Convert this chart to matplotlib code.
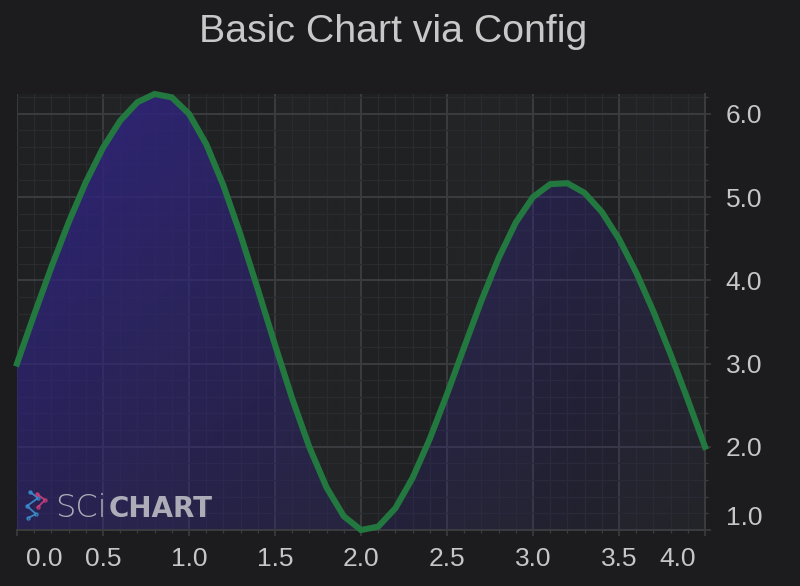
import numpy as np
import matplotlib
matplotlib.use("Agg")
import matplotlib.pyplot as plt
from matplotlib.transforms import ScaledTranslation
from matplotlib.lines import Line2D

# ---- data (spline mountain series control points) ----
x_values = [0, 1, 2, 3, 4]
y_values = [3, 6, 1, 5, 2]
x_ticks = [0.0, 0.5, 1.0, 1.5, 2.0, 2.5, 3.0, 3.5, 4.0]
x_tick_labels = ["0.0", "0.5", "1.0", "1.5", "2.0", "2.5", "3.0", "3.5", "4.0"]
y_ticks = [1.0, 2.0, 3.0, 4.0, 5.0, 6.0]
y_tick_labels = ["1.0", "2.0", "3.0", "4.0", "5.0", "6.0"]
title = "Basic Chart via Config"
interpolation_points = 10


def natural_spline(xs, ys, n_per_seg):
    xs = np.asarray(xs, float)
    ys = np.asarray(ys, float)
    n = len(xs)
    h = np.diff(xs)
    A = np.zeros((n, n))
    rhs = np.zeros(n)
    A[0, 0] = A[-1, -1] = 1.0
    for i in range(1, n - 1):
        A[i, i - 1] = h[i - 1]
        A[i, i] = 2 * (h[i - 1] + h[i])
        A[i, i + 1] = h[i]
        rhs[i] = 6 * ((ys[i + 1] - ys[i]) / h[i] - (ys[i] - ys[i - 1]) / h[i - 1])
    M = np.linalg.solve(A, rhs)
    px, py = [], []
    for i in range(n - 1):
        t = np.linspace(xs[i], xs[i + 1], n_per_seg + 1)
        if i < n - 2:
            t = t[:-1]
        a = xs[i + 1] - t
        b = t - xs[i]
        s = (M[i] * a ** 3 + M[i + 1] * b ** 3) / (6 * h[i]) \
            + (ys[i] / h[i] - M[i] * h[i] / 6) * a + (ys[i + 1] / h[i] - M[i + 1] * h[i] / 6) * b
        px.append(t)
        py.append(s)
    return np.concatenate(px), np.concatenate(py)


sx, sy = natural_spline(x_values, y_values, interpolation_points)

BG = "#1c1c1e"
PLOT_BG = "#1f2022"
GRID_MAJOR = "#3b3c40"
GRID_MINOR = "#2a2b2e"
LABEL = "#c6c6c6"

plt.rcParams["font.family"] = ["Liberation Sans", "DejaVu Sans"]

fig = plt.figure(figsize=(8.0, 5.86), dpi=100, facecolor=BG)
ax = fig.add_axes([17 / 800, 1 - 530 / 586, (705 - 17) / 800, (530 - 94) / 586])
ax.set_facecolor(PLOT_BG)

ymin, ymax = float(sy.min()), float(sy.max())
ax.set_xlim(x_values[0], x_values[-1])
ax.set_ylim(ymin, ymax)

# axis bands
for i in range(len(x_ticks) - 1):
    if i % 2 == 1:
        ax.axvspan(x_ticks[i], x_ticks[i + 1], color="white", alpha=0.014, lw=0, zorder=0.1)
for i in range(len(y_ticks) - 1):
    if i % 2 == 0:
        ax.axhspan(y_ticks[i], y_ticks[i + 1], color="white", alpha=0.007, lw=0, zorder=0.1)

# grid
ax.set_xticks(x_ticks)
ax.set_xticklabels(x_tick_labels)
ax.set_yticks(y_ticks)
ax.set_yticklabels(y_tick_labels)
ax.set_xticks(np.arange(0, 4.0001, 0.1), minor=True)
ax.set_yticks(np.arange(1.0, ymax, 0.2), minor=True)
ax.grid(True, which="major", color=GRID_MAJOR, lw=1.4, zorder=0.5)
ax.grid(True, which="minor", color=GRID_MINOR, lw=0.9, zorder=0.4)
ax.set_axisbelow(True)

# gradient mountain fill
poly = ax.fill_between(sx, sy, ymin, color="none", lw=0)
nx, ny = 200, 200
u = np.linspace(0, 1, nx)[None, :]
v = np.linspace(0, 1, ny)[:, None]
A_tl, A_tr, A_bl, A_br = 1.0, 0.36, 0.55, 0.03
alpha = (1 - u) * (1 - v) * A_tl + u * (1 - v) * A_tr + (1 - u) * v * A_bl + u * v * A_br
rgba = np.zeros((ny, nx, 4))
rgba[..., 0] = 47 / 255
rgba[..., 1] = 36 / 255
rgba[..., 2] = 122 / 255
rgba[..., 3] = alpha
im = ax.imshow(rgba, extent=[x_values[0], x_values[-1], ymin, ymax], origin="upper",
               aspect="auto", zorder=1, interpolation="bilinear")
im.set_clip_path(poly.get_paths()[0], transform=ax.transData)

# stroke
ax.plot(sx, sy, color="#22783f", lw=4.4, solid_joinstyle="miter", zorder=3, clip_on=False)

# spines / axes
for s in ["left", "top"]:
    ax.spines[s].set_visible(False)
for s in ["bottom", "right"]:
    ax.spines[s].set_color(GRID_MAJOR)
    ax.spines[s].set_linewidth(1.4)
ax.yaxis.tick_right()
ax.tick_params(axis="x", which="major", direction="out", length=4.5, width=1.2, color=GRID_MAJOR,
               labelsize=19, labelcolor=LABEL, pad=7.5)
ax.tick_params(axis="x", which="minor", direction="out", length=2.5, width=0.9, color=GRID_MAJOR)
ax.tick_params(axis="y", which="major", direction="out", length=4, width=1.2, color=GRID_MAJOR,
               labelsize=19, labelcolor=LABEL, pad=11, left=False, right=True)
ax.tick_params(axis="y", which="minor", direction="out", length=2.5, width=0.9, color=GRID_MAJOR,
               left=False, right=True)

# shift edge labels inward (as the original does)
xt = ax.xaxis.get_major_ticks()
xt[0].label1.set_transform(xt[0].label1.get_transform() + ScaledTranslation(0.275, 0, fig.dpi_scale_trans))
xt[-1].label1.set_transform(xt[-1].label1.get_transform() + ScaledTranslation(-0.27, 0, fig.dpi_scale_trans))
yt = ax.yaxis.get_major_ticks()
yt[0].label2.set_transform(yt[0].label2.get_transform() + ScaledTranslation(0, 0.145, fig.dpi_scale_trans))

# title
fig.text(393 / 800, 1 - 32 / 586, title, ha="center", va="center", fontsize=28.3, color="#c8c8c8")

# watermark
wm_color = "#bcbcc4"
fig.text(107 / 800, 1 - 517 / 586, "SCi", fontsize=23, color=wm_color, alpha=0.9,
         family=["DejaVu Sans"], fontweight="light", ha="right", va="baseline")
fig.text(109 / 800, 1 - 517 / 586, "CHART", fontsize=20, color=wm_color, alpha=0.9,
         family=["DejaVu Sans"], fontweight="bold", ha="left", va="baseline")
icon_blue = ([30, 38, 27, 36, 28], [492, 498, 506, 514, 518])
icon_pink = ([37, 45, 38], [494, 500, 507])
for (xs_, ys_), col in [(icon_blue, "#3b8fd0"), (icon_pink, "#d0407a")]:
    fig.add_artist(Line2D([a / 800 for a in xs_], [1 - b / 586 for b in ys_], transform=fig.transFigure,
                          color=col, lw=1.3, marker="o", ms=2.2, mfc="none", mew=0.9, alpha=0.9))

fig.savefig("out.png", dpi=100, facecolor=BG)
